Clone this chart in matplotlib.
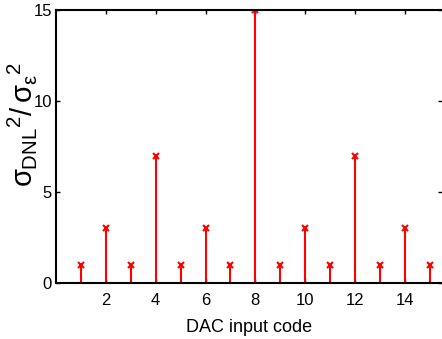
import matplotlib
matplotlib.use('Agg')
import matplotlib.pyplot as plt

codes = [1, 2, 3, 4, 5, 6, 7, 8, 9, 10, 11, 12, 13, 14, 15]
ratio = [1, 3, 1, 7, 1, 3, 1, 15, 1, 3, 1, 7, 1, 3, 1]

plt.rcParams['font.family'] = ['Liberation Sans', 'DejaVu Sans']
plt.rcParams['mathtext.fontset'] = 'custom'
plt.rcParams['mathtext.rm'] = 'Liberation Sans'
plt.rcParams['mathtext.it'] = 'Liberation Sans'

fig = plt.figure(figsize=(4.42, 3.39), dpi=100)
ax = fig.add_axes([0.127, 0.165, 0.873, 0.805])

markers, stems, base = ax.stem(codes, ratio, linefmt='r-', markerfmt='rx', basefmt='k-')
plt.setp(stems, linewidth=1.5)
plt.setp(markers, markersize=4, markeredgewidth=1.5)
plt.setp(base, linewidth=0)

ax.set_xlim(0, 15.5)
ax.set_ylim(0, 15)
ax.set_xticks([2, 4, 6, 8, 10, 12, 14])
ax.set_yticks([0, 5, 10, 15])
ax.tick_params(direction='in', top=True, right=True, length=3, width=1,
               labelsize=12)
ax.tick_params(axis='x', pad=7)
ax.tick_params(axis='y', pad=3)
for s in ['left', 'bottom', 'top']:
    ax.spines[s].set_linewidth(1.5)
ax.spines['right'].set_visible(False)

ax.set_xlabel('DAC input code', fontsize=13, labelpad=8)
ax.set_ylabel(r'$\sigma_{\mathrm{DNL}}{}^{2}/\,\sigma_{\epsilon}{}^{2}$', fontsize=21)
ax.yaxis.set_label_coords(-0.045, 0.58)

fig.savefig('out.png', dpi=100)
